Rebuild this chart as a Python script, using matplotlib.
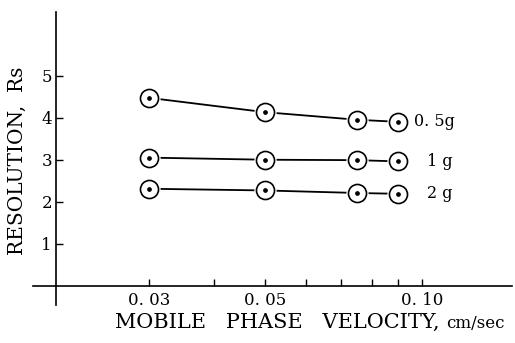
import numpy as np
import matplotlib
matplotlib.use("Agg")
import matplotlib.pyplot as plt

# mobile phase velocity (cm/sec) and resolution for each sample load
velocity = [0.03, 0.05, 0.075, 0.09]
rs_05g = [4.47, 4.13, 3.95, 3.90]
rs_1g = [3.05, 3.00, 2.99, 2.96]
rs_2g = [2.31, 2.27, 2.21, 2.19]
series = [(rs_05g, "0. 5g", 11), (rs_1g, "1 g", 21), (rs_2g, "2 g", 21)]

xticks = [0.03, 0.04, 0.05, 0.06, 0.07, 0.08, 0.09, 0.10]
xticklabels = ["0. 03", "", "0. 05", "", "", "", "", "0. 10"]
yticks = [1, 2, 3, 4, 5]

plt.rcParams['font.family'] = ['DejaVu Serif']

fig = plt.figure(figsize=(5.15, 3.43), dpi=100)
ax = fig.add_axes([0.064, 0.111, 0.93, 0.854])
ax.set_xscale('log')
ax.set_xlim(0.01796, 0.1486)
ax.set_ylim(-0.45, 6.51)

for vals, name, off in series:
    ax.plot(velocity, vals, color='black', lw=1.3, zorder=1)
    # white halo so the line stops short of each circle
    ax.plot(velocity, vals, 'o', ms=16, mfc='white', mec='none', zorder=2)
    ax.plot(velocity, vals, 'o', ms=13, mfc='white', mec='black', mew=1.2, zorder=3)
    ax.plot(velocity, vals, 'o', ms=2.4, color='black', zorder=4)
    ax.annotate(name, xy=(velocity[-1], vals[-1]), xytext=(off, 0),
                textcoords='offset points', va='center', ha='left', fontsize=11.5)

for s in ['top', 'right']:
    ax.spines[s].set_visible(False)
ax.spines['bottom'].set_position(('data', 0))
ax.spines['left'].set_position(('data', 0.0199))
ax.spines['bottom'].set_linewidth(1.2)
ax.spines['left'].set_linewidth(1.2)

ax.set_xticks(xticks)
ax.set_xticklabels(xticklabels)
ax.xaxis.set_minor_locator(matplotlib.ticker.NullLocator())
ax.set_yticks(yticks)
ax.tick_params(direction='in', length=5, width=1, labelsize=12, pad=4)
ax.tick_params(axis='y', pad=3)

fig.text(0.033, 0.53, "RESOLUTION,  Rs", rotation=90, ha='center', va='center', fontsize=14.5)
fig.text(0.223, 0.061, "MOBILE   PHASE   VELOCITY,", ha='left', va='center', fontsize=15)
fig.text(0.867, 0.058, "cm/sec", ha='left', va='center', fontsize=12)

fig.savefig("out.png", dpi=100)
